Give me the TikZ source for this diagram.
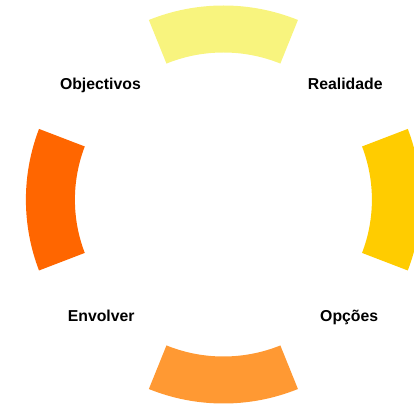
\documentclass[tikz,border=0pt]{standalone}
\usepackage{fontspec}
\setmainfont{Liberation Sans}
\definecolor{cTop}{HTML}{F8F47E}
\definecolor{cRight}{HTML}{FFCC00}
\definecolor{cBottom}{HTML}{FF9933}
\definecolor{cLeft}{HTML}{FF6600}
\begin{document}
\begin{tikzpicture}[x=1pt,y=1pt,
  lbl/.style={font=\fontsize{15.8}{18}\selectfont\bfseries, anchor=base, inner sep=0pt}]
\useasboundingbox (0,0) rectangle (414,404);
\coordinate (cv) at (223.4,199.5);
\coordinate (ch) at (223.4,204.3);
% top
\fill[cTop] ([shift={(68:199)}]cv) arc[start angle=68,end angle=112,radius=199]
  -- ([shift={(112:152)}]cv) arc[start angle=112,end angle=68,radius=152] -- cycle;
% bottom
\fill[cBottom] ([shift={(248:199)}]cv) arc[start angle=248,end angle=292,radius=199]
  -- ([shift={(292:152)}]cv) arc[start angle=292,end angle=248,radius=152] -- cycle;
% left
\fill[cLeft] ([shift={(159:197.5)}]ch) arc[start angle=159,end angle=201,radius=197.5]
  -- ([shift={(201:148.5)}]ch) arc[start angle=201,end angle=159,radius=148.5] -- cycle;
% right
\fill[cRight] ([shift={(-21:197.5)}]ch) arc[start angle=-21,end angle=21,radius=197.5]
  -- ([shift={(21:148.5)}]ch) arc[start angle=21,end angle=-21,radius=148.5] -- cycle;
\node[lbl] (obj) at (100.4,314) {Objectivos};
\node[lbl] (rea) at (345.3,314) {Realidade};
\node[lbl] (env) at (101.2,83) {Envolver};
\node[lbl] (opc) at (349.2,83) {Opções};
\end{tikzpicture}
\end{document}
